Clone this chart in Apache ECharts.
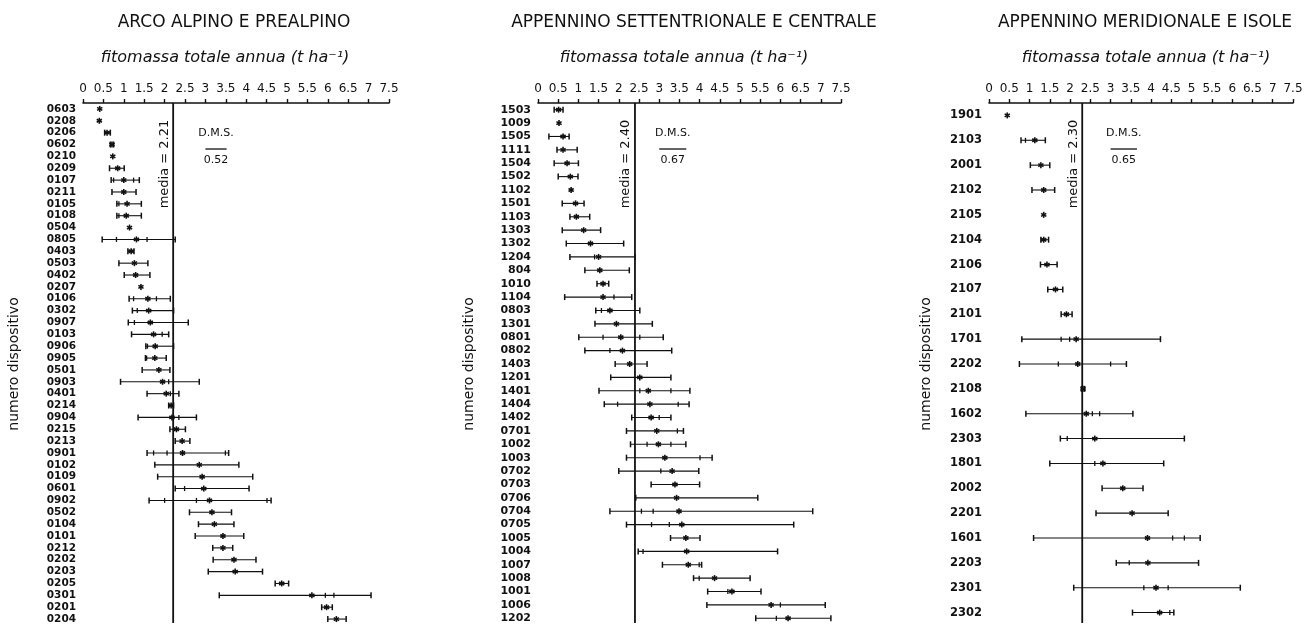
<!DOCTYPE html>
<html>
<head>
<meta charset="utf-8">
<script src="https://cdn.jsdelivr.net/npm/echarts@6/dist/echarts.min.js"></script>
<style>html,body{margin:0;padding:0;background:#fff}#c{width:1309px;height:628px}</style>
</head>
<body>
<div id="c"></div>
<script>
// ---------- DATA ----------
const titles = ['ARCO ALPINO E PREALPINO', 'APPENNINO SETTENTRIONALE E CENTRALE', 'APPENNINO MERIDIONALE E ISOLE'];
const subtitle = 'fitomassa totale annua (t ha\u207B\u00B9)';
const yName = 'numero dispositivo';
const medians = [2.21, 2.40, 2.30];
const dmsValues = [0.52, 0.67, 0.65];

// Panel A: Arco alpino e prealpino
const codesA = ['0603','0208','0206','0602','0210','0209','0107','0211','0105','0108','0504','0805','0403','0503','0402','0207','0106','0302','0907','0103','0906','0905','0501','0903','0401','0214','0904','0215','0213','0901','0102','0109','0601','0902','0502','0104','0101','0212','0202','0203','0205','0301','0201','0204'];
const meanA = [0.41,0.40,0.59,0.71,0.73,0.85,1.00,1.00,1.08,1.06,1.14,1.31,1.18,1.26,1.29,1.42,1.59,1.61,1.65,1.73,1.77,1.76,1.86,1.95,2.04,2.16,2.18,2.29,2.43,2.44,2.85,2.92,2.96,3.10,3.16,3.22,3.43,3.43,3.70,3.73,4.87,5.61,5.97,6.21];
const minA  = [null,null,0.53,0.67,null,0.65,0.69,0.71,0.83,0.83,null,0.47,1.10,0.88,1.01,null,1.13,1.21,1.11,1.19,1.54,1.53,1.45,0.92,1.57,2.10,1.35,2.13,2.26,1.57,1.76,1.83,2.26,1.62,2.61,2.83,2.75,3.18,3.19,3.07,4.71,3.34,5.85,6.00];
const maxA  = [null,null,0.67,0.75,null,1.01,1.38,1.30,1.43,1.43,null,2.26,1.25,1.59,1.64,null,2.14,2.22,2.58,2.10,2.22,2.04,2.13,2.85,2.35,2.22,2.78,2.51,2.62,3.57,3.82,4.16,4.07,4.61,3.64,3.70,3.94,3.67,4.24,4.40,5.04,7.06,6.11,6.45];
const ticksA = [[],[],[],[],[],[],[0.75,1.24],[],[0.88],[0.88],[],[0.82,1.57],[],[],[],[],[1.24,1.80],[1.33],[1.26],[1.94],[1.58],[1.56],[],[2.10],[2.14],[],[2.35],[],[],[1.73,2.06,3.49],[],[],[2.49],[2.00,2.78,4.51],[],[],[],[],[],[],[],[5.94,6.15],[],[]];

// Panel B: Appennino settentrionale e centrale
const codesB = ['1503','1009','1505','1111','1504','1502','1102','1501','1103','1303','1302','1204','804','1010','1104','0803','1301','0801','0802','1403','1201','1401','1404','1402','0701','1002','1003','0702','0703','0706','0704','0705','1005','1004','1007','1008','1001','1006','1202'];
const meanB = [0.51,0.52,0.62,0.62,0.72,0.80,0.82,0.93,0.95,1.13,1.30,1.50,1.53,1.61,1.61,1.78,1.94,2.05,2.09,2.27,2.52,2.73,2.77,2.80,2.94,2.98,3.14,3.32,3.39,3.43,3.49,3.56,3.66,3.68,3.72,4.37,4.80,5.77,6.19];
const minB  = [0.40,null,0.27,0.47,0.40,0.50,null,0.60,0.79,0.60,0.70,0.79,1.16,1.46,0.66,1.43,1.41,1.01,1.16,1.91,1.80,1.51,1.64,2.32,2.19,2.29,2.19,2.00,2.80,2.42,1.78,2.19,3.28,2.48,3.08,3.85,4.20,4.18,5.39];
const maxB  = [0.62,null,0.77,0.97,1.00,0.99,null,1.14,1.28,1.55,2.12,2.40,2.26,1.75,2.32,2.52,2.83,3.10,3.31,2.70,3.29,3.76,3.74,3.29,3.60,3.66,4.31,3.98,4.00,5.44,6.80,6.33,4.01,5.93,4.05,5.25,5.52,7.11,7.25];
const ticksB = [[],[],[],[],[],[],[],[],[],[],[],[1.40],[],[],[1.88],[1.57],[],[1.61,2.52],[1.78],[],[],[2.52,3.29],[1.97,3.47],[3.00],[3.45],[2.70,3.29],[4.01],[3.04],[],[],[2.56,2.85],[2.81,3.25],[],[2.60],[3.99],[3.99],[4.70],[6.00],[5.90]];

// Panel C: Appennino meridionale e isole
const codesC = ['1901','2103','2001','2102','2105','2104','2106','2107','2101','1701','2202','2108','1602','2303','1801','2002','2201','1601','2203','2301','2302'];
const meanC = [0.45,1.13,1.28,1.35,1.35,1.35,1.43,1.64,1.91,2.15,2.19,2.32,2.40,2.61,2.81,3.30,3.53,3.91,3.92,4.12,4.21];
const minC  = [null,0.79,1.02,1.06,null,1.28,1.27,1.45,1.78,0.81,0.75,2.28,0.91,1.76,1.50,2.79,2.64,1.10,3.14,2.09,3.54];
const maxC  = [null,1.39,1.50,1.62,null,1.47,1.68,1.82,2.05,4.23,3.39,2.36,3.55,4.82,4.31,3.80,4.42,5.21,5.17,6.20,4.56];
const ticksC = [[],[0.90],[],[],[],[],[],[],[],[1.78,1.99],[1.71,3.00],[],[2.55,2.73],[1.93],[2.61],[],[],[4.53,4.82],[3.46],[3.82,4.42],[4.46]];

const xTickMin = 0, xTickMax = 7.5, xTickStep = 0.5;

// ---------- OPTION ----------
const codes = [codesA, codesB, codesC];
const means = [meanA, meanB, meanC];
const mins = [minA, minB, minC];
const maxs = [maxA, maxB, maxC];
const ticks = [ticksA, ticksB, ticksC];

const FONT = 'DejaVu Sans';
const grids = [
  {left: 83, right: 920, top: 103, height: 522},
  {left: 538, right: 468, top: 103, height: 522},
  {left: 989, right: 16, top: 103, height: 522}
];
const titleX = [229, 689, 1140];
const subX = [220, 679, 1141];
const nameGaps = [62, 62, 56];
const labelSizes = [10.5, 11, 11.5];

function rowRenderer(p) {
  return function (params, api) {
    const yi = api.value(0);
    const m = api.coord([api.value(1), yi]);
    const lo = api.value(2), hi = api.value(3);
    const ch = [];
    const ls = {stroke: '#111', lineWidth: 1.1};
    if (!isNaN(lo) && !isNaN(hi) && hi > lo) {
      const a = api.coord([lo, yi]), b = api.coord([hi, yi]);
      ch.push({type: 'line', shape: {x1: a[0], y1: a[1], x2: b[0], y2: b[1]}, style: ls});
      ch.push({type: 'line', shape: {x1: a[0], y1: a[1] - 3, x2: a[0], y2: a[1] + 3}, style: {stroke: '#111', lineWidth: 1.5}});
      ch.push({type: 'line', shape: {x1: b[0], y1: b[1] - 3, x2: b[0], y2: b[1] + 3}, style: {stroke: '#111', lineWidth: 1.5}});
    }
    (ticks[p][params.dataIndex] || []).forEach(function (t) {
      const c = api.coord([t, yi]);
      ch.push({type: 'line', shape: {x1: c[0], y1: c[1] - 2.5, x2: c[0], y2: c[1] + 2.5}, style: {stroke: '#111', lineWidth: 1.3}});
    });
    const r = 3;
    for (let k = 0; k < 3; k++) {
      const ang = Math.PI / 2 + k * Math.PI / 3;
      const dx = Math.cos(ang) * r, dy = Math.sin(ang) * r;
      ch.push({type: 'line', shape: {x1: m[0] - dx, y1: m[1] - dy, x2: m[0] + dx, y2: m[1] + dy}, style: {stroke: '#111', lineWidth: 1.6}});
    }
    return {type: 'group', children: ch};
  };
}

function medianRenderer(p) {
  return function (params, api) {
    const cs = params.coordSys;
    const x = api.coord([api.value(0), 0])[0];
    const d0 = api.coord([3.0, 0])[0];
    const d1 = api.coord([3.0 + api.value(1), 0])[0];
    const dc = (d0 + d1) / 2;
    return {type: 'group', children: [
      {type: 'line', shape: {x1: x, y1: cs.y, x2: x, y2: cs.y + cs.height - 2}, style: {stroke: '#111', lineWidth: 1.8}},
      {type: 'text', x: x - 9, y: cs.y + 61, rotation: Math.PI / 2,
        style: {text: 'media = ' + api.value(0).toFixed(2), x: 0, y: 0, align: 'center', verticalAlign: 'middle', fill: '#111', font: '13px "' + FONT + '"'}},
      {type: 'text', x: dc, y: cs.y + 30, style: {text: 'D.M.S.', x: 0, y: 0, align: 'center', verticalAlign: 'middle', fill: '#111', font: '11px "' + FONT + '"'}},
      {type: 'line', shape: {x1: d0, y1: cs.y + 46, x2: d1, y2: cs.y + 46}, style: {stroke: '#111', lineWidth: 1.3}},
      {type: 'text', x: dc, y: cs.y + 57, style: {text: api.value(1).toFixed(2), x: 0, y: 0, align: 'center', verticalAlign: 'middle', fill: '#111', font: '11px "' + FONT + '"'}}
    ]};
  };
}

const option = {
  backgroundColor: '#fff',
  animation: false,
  textStyle: {fontFamily: FONT, color: '#111'},
  title: [0, 1, 2].map(i => ({
    text: titles[i], left: titleX[i], top: 9, textAlign: 'center',
    textStyle: {fontFamily: FONT, fontSize: 17, fontWeight: 'normal', color: '#111'}
  })).concat([0, 1, 2].map(i => ({
    text: subtitle, left: subX[i], top: 45, textAlign: 'center',
    textStyle: {fontFamily: FONT, fontSize: 16, fontStyle: 'italic', fontWeight: 'normal', color: '#111'}
  }))),
  grid: grids,
  xAxis: [0, 1, 2].map(i => ({
    type: 'value', gridIndex: i, position: 'top', min: xTickMin, max: xTickMax, interval: xTickStep,
    axisLine: {show: true, lineStyle: {color: '#111', width: 1.6}},
    axisTick: {show: true, length: 4, lineStyle: {color: '#111', width: 1.4}},
    axisLabel: {show: true, margin: 8, fontFamily: FONT, fontSize: 12, color: '#111'},
    splitLine: {show: false}
  })),
  yAxis: [0, 1, 2].map(i => ({
    type: 'category', gridIndex: i, inverse: true, data: codes[i],
    axisLine: {show: false}, axisTick: {show: false},
    axisLabel: {interval: 0, margin: 7, fontFamily: FONT, fontSize: labelSizes[i], fontWeight: 'bold', color: '#111'},
    name: yName, nameLocation: 'middle', nameGap: nameGaps[i], nameRotate: 90,
    nameTextStyle: {fontFamily: FONT, fontSize: 14, color: '#111'},
    splitLine: {show: false}
  })),
  series: [0, 1, 2].map(i => ({
    type: 'custom', xAxisIndex: i, yAxisIndex: i, clip: false,
    renderItem: rowRenderer(i),
    encode: {x: [1, 2, 3], y: 0},
    data: codes[i].map((c, k) => [k, means[i][k], mins[i][k] == null ? '-' : mins[i][k], maxs[i][k] == null ? '-' : maxs[i][k]])
  })).concat([0, 1, 2].map(i => ({
    type: 'custom', xAxisIndex: i, yAxisIndex: i, clip: false,
    renderItem: medianRenderer(i),
    encode: {x: 0},
    data: [[medians[i], dmsValues[i]]]
  })))
};

const chart = echarts.init(document.getElementById('c'), null, {renderer: 'canvas'});
chart.setOption(option);
</script>
</body>
</html>
